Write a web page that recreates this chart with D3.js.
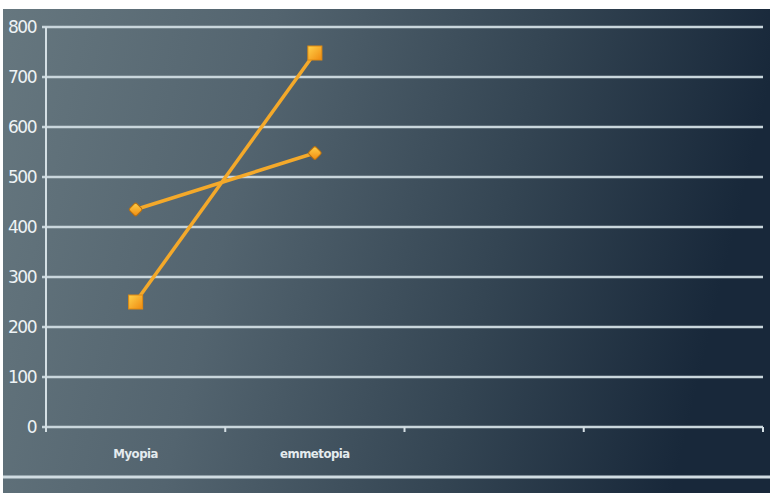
<!DOCTYPE html>
<html>
<head>
<meta charset="utf-8">
<script src="https://cdn.jsdelivr.net/npm/d3@7"></script>
<style>
  html, body { margin: 0; padding: 0; background: #fff; }
  svg { display: block; }
</style>
</head>
<body>
<svg></svg>
<script>
const [svgWidth, svgHeight] = [773, 493];
const categories = ['Myopia', 'emmetopia', '', ''];
const seriesDiamond = [435, 548];
const seriesSquare = [250, 748];
const yTicks = [0, 100, 200, 300, 400, 500, 600, 700, 800];

const svg = d3.select('svg')
  .attr('width', svgWidth)
  .attr('height', svgHeight);

const defs = svg.append('defs');
const bg = defs.append('linearGradient').attr('id', 'bg')
  .attr('x1', 0).attr('y1', 0).attr('x2', 1).attr('y2', 0.15);
bg.append('stop').attr('offset', '0%').attr('stop-color', '#66777f');
bg.append('stop').attr('offset', '35%').attr('stop-color', '#53646f');
bg.append('stop').attr('offset', '70%').attr('stop-color', '#344553');
bg.append('stop').attr('offset', '100%').attr('stop-color', '#18283a');

const mk = defs.append('linearGradient').attr('id', 'mk')
  .attr('x1', 0).attr('y1', 0).attr('x2', 1).attr('y2', 1);
mk.append('stop').attr('offset', '0%').attr('stop-color', '#ffd24a');
mk.append('stop').attr('offset', '100%').attr('stop-color', '#f08a10');

svg.append('rect')
  .attr('x', 3).attr('y', 9)
  .attr('width', svgWidth - 6).attr('height', svgHeight - 9)
  .attr('fill', 'url(#bg)');

const margin = { left: 46, top: 27 };
const plotRight = 763;
const plotBottom = 427;

const x = d3.scaleBand()
  .domain(d3.range(categories.length))
  .range([margin.left, plotRight]);
const y = d3.scaleLinear()
  .domain([0, 800])
  .range([plotBottom, margin.top]);

// gridlines
svg.append('g')
  .selectAll('line')
  .data(yTicks)
  .join('line')
  .attr('x1', margin.left - 4)
  .attr('x2', plotRight)
  .attr('y1', d => y(d))
  .attr('y2', d => y(d))
  .attr('stroke', '#c9d6dc')
  .attr('stroke-width', 2.5);

// y axis line
svg.append('line')
  .attr('x1', margin.left).attr('x2', margin.left)
  .attr('y1', y(800)).attr('y2', plotBottom + 3)
  .attr('stroke', '#d4dfe4').attr('stroke-width', 2);

// x ticks at category boundaries
svg.append('g')
  .selectAll('line')
  .data(d3.range(categories.length + 1))
  .join('line')
  .attr('x1', d => margin.left + d * x.step())
  .attr('x2', d => margin.left + d * x.step())
  .attr('y1', plotBottom)
  .attr('y2', plotBottom + 5)
  .attr('stroke', '#d4dfe4').attr('stroke-width', 2);

// y labels
svg.append('g')
  .selectAll('text')
  .data(yTicks)
  .join('text')
  .attr('x', 36)
  .attr('y', d => y(d))
  .attr('text-anchor', 'end')
  .attr('dominant-baseline', 'central')
  .attr('font-family', 'DejaVu Sans, sans-serif')
  .attr('font-size', 17)
  .attr('fill', '#eef3f5')
  .style('letter-spacing', '-1.5px')
  .text(d => d);

// x labels
svg.append('g')
  .selectAll('text')
  .data(categories)
  .join('text')
  .attr('x', (d, i) => x(i) + x.bandwidth() / 2)
  .attr('y', 453)
  .attr('text-anchor', 'middle')
  .attr('dominant-baseline', 'central')
  .attr('font-family', 'DejaVu Sans Condensed, DejaVu Sans, sans-serif')
  .attr('font-size', 13)
  .attr('font-weight', 'bold')
  .attr('fill', '#e4ebee')
  .style('letter-spacing', '-0.5px')
  .text(d => d);

// bottom separator
svg.append('line')
  .attr('x1', 3).attr('x2', svgWidth - 3)
  .attr('y1', 477).attr('y2', 477)
  .attr('stroke', '#d0dce2').attr('stroke-width', 3);

const line = d3.line()
  .x((d, i) => x(i) + x.bandwidth() / 2)
  .y(d => y(d));

[seriesSquare, seriesDiamond].forEach(s => {
  svg.append('path')
    .attr('d', line(s))
    .attr('fill', 'none')
    .attr('stroke', '#f4a92a')
    .attr('stroke-width', 3.5);
});

svg.append('g')
  .selectAll('rect')
  .data(seriesSquare)
  .join('rect')
  .attr('x', (d, i) => x(i) + x.bandwidth() / 2 - 7)
  .attr('y', d => y(d) - 7)
  .attr('width', 14)
  .attr('height', 14)
  .attr('fill', 'url(#mk)')
  .attr('stroke', '#e08a10')
  .attr('stroke-width', 1);

svg.append('g')
  .selectAll('rect')
  .data(seriesDiamond)
  .join('rect')
  .attr('transform', (d, i) => `translate(${x(i) + x.bandwidth() / 2}, ${y(d)}) rotate(45)`)
  .attr('x', -5).attr('y', -5)
  .attr('width', 10).attr('height', 10)
  .attr('rx', 2)
  .attr('fill', 'url(#mk)')
  .attr('stroke', '#b87010')
  .attr('stroke-width', 1);
</script>
</body>
</html>
